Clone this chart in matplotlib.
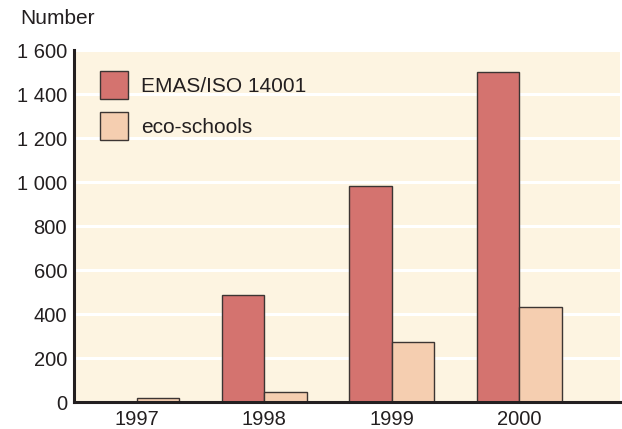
import matplotlib
matplotlib.use("Agg")
import matplotlib.pyplot as plt
import numpy as np
from matplotlib.patches import Patch

years = ["1997", "1998", "1999", "2000"]
emas = [0, 485, 980, 1500]
eco = [20, 45, 275, 430]
yticks = [0, 200, 400, 600, 800, 1000, 1200, 1400, 1600]
ytick_labels = ["0", "200", "400", "600", "800", "1 000", "1 200", "1 400", "1 600"]

plt.rcParams['font.family'] = ['Liberation Sans', 'DejaVu Sans']
txt = '#231F20'
c_emas = '#D4736F'
c_eco = '#F5CEB0'
bg = '#FDF4E1'
edge = '#3C3533'

W, H = 622, 429
fig = plt.figure(figsize=(W/100, H/100), dpi=100)
ax = fig.add_axes([74/W, 1-402/H, (620-74)/W, (402-50)/H])
ax.set_facecolor(bg)

x = np.arange(len(years))
w = 0.333
ax.bar(x - w/2, emas, w, color=c_emas, edgecolor=edge, linewidth=1.0, zorder=3)
ax.bar(x + w/2, eco, w, color=c_eco, edgecolor=edge, linewidth=1.0, zorder=3)

ax.set_ylim(0, 1600)
ax.set_xlim(-0.494, 3.79)
ax.set_yticks(yticks)
ax.set_yticklabels(ytick_labels)
ax.set_xticks(x)
ax.set_xticklabels(years)
ax.tick_params(axis='both', length=0, labelsize=14.5, colors=txt)
ax.tick_params(axis='y', pad=5)
ax.tick_params(axis='x', pad=6)
ax.yaxis.grid(True, color='white', linewidth=2.2, zorder=1)
ax.set_axisbelow(True)
for s in ['top', 'right']:
    ax.spines[s].set_visible(False)
for s in ['left', 'bottom']:
    ax.spines[s].set_color(txt)
    ax.spines[s].set_linewidth(2.2)
    ax.spines[s].set_zorder(4)

handles = [Patch(facecolor=c_emas, edgecolor=edge, linewidth=1.0, label='EMAS/ISO 14001'),
           Patch(facecolor=c_eco, edgecolor=edge, linewidth=1.0, label='eco-schools')]
leg = ax.legend(handles=handles, loc='upper left', bbox_to_anchor=(26/546, 1-21/352),
                frameon=False, fontsize=15, handlelength=1.35, handleheight=1.72,
                handletextpad=0.62, labelspacing=0.6, labelcolor=txt, borderpad=0,
                borderaxespad=0)

fig.text(20/W, 1-18/H, "Number", fontsize=15, color=txt, va='center', ha='left')

fig.savefig("out.png", dpi=100)
